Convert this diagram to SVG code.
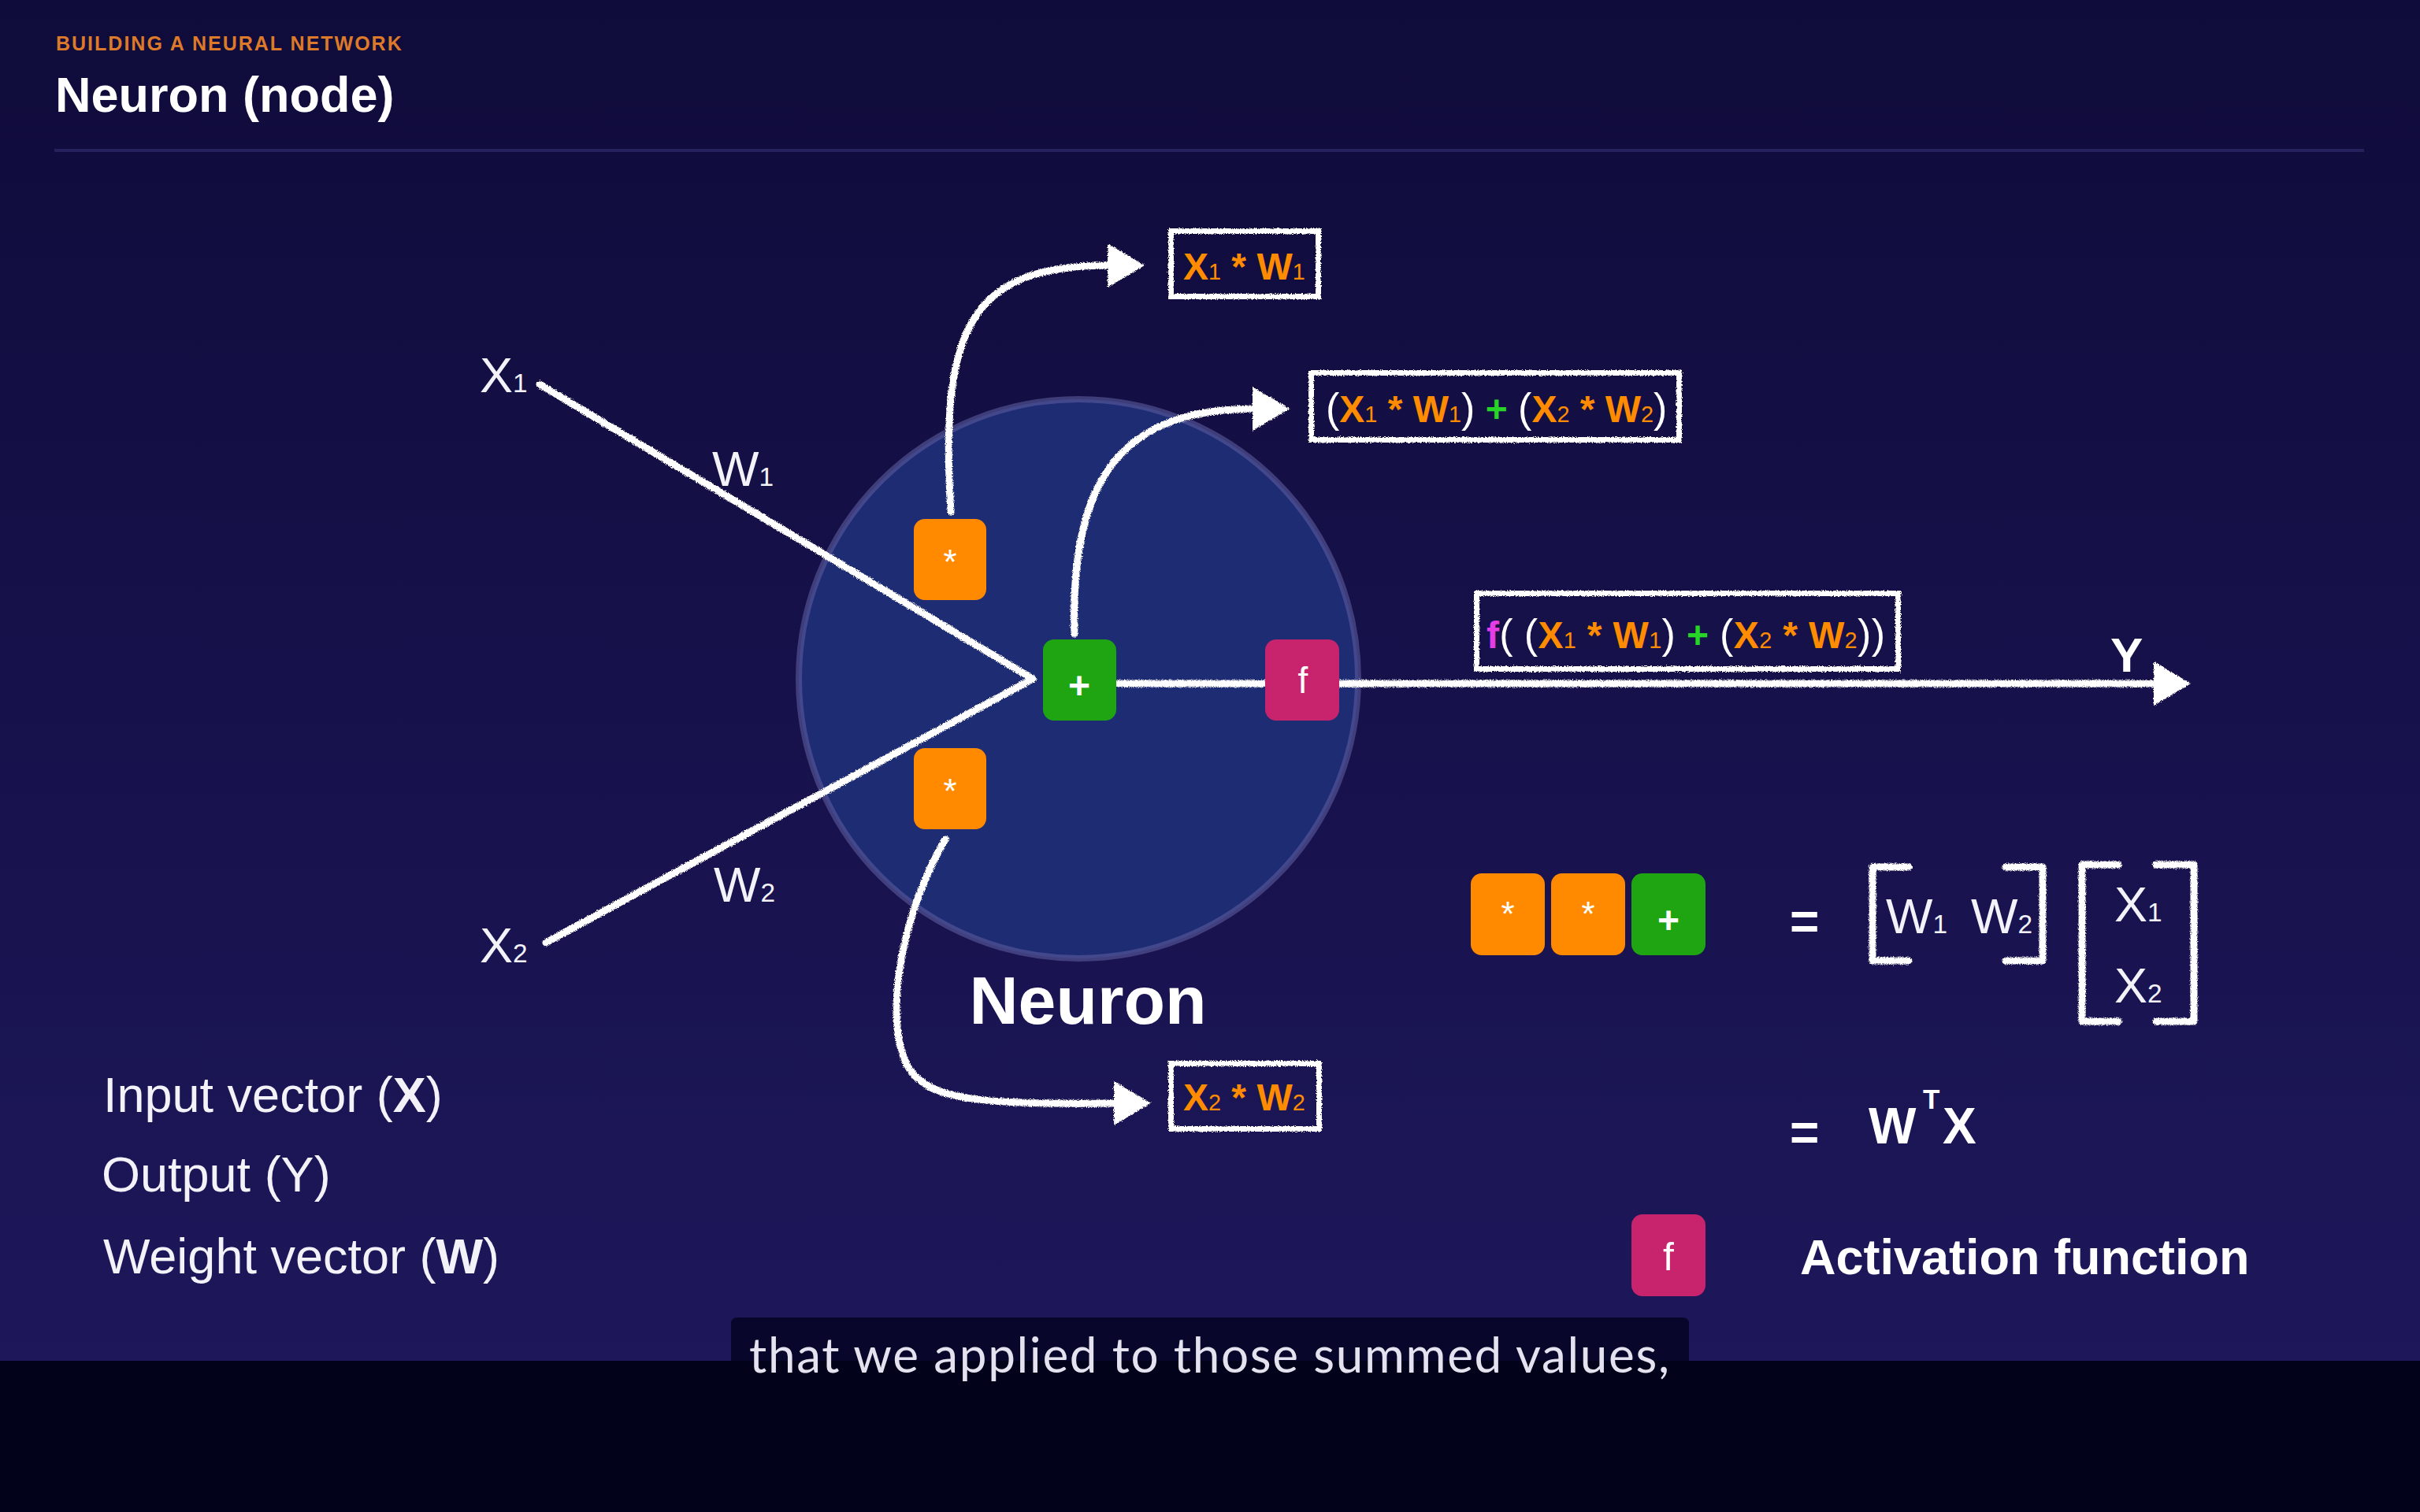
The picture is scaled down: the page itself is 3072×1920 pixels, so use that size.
<svg xmlns="http://www.w3.org/2000/svg" width="3072" height="1920" viewBox="0 0 3072 1920">
  <defs>
    <linearGradient id="bg" x1="0" y1="0" x2="0" y2="1">
      <stop offset="0" stop-color="#0f0b3a"/>
      <stop offset="1" stop-color="#1f195e"/>
    </linearGradient>
    <!-- rough chalk edge for hand-drawn strokes -->
    <filter id="chalk" filterUnits="userSpaceOnUse" x="0" y="0" width="3072" height="1920">
      <feTurbulence type="fractalNoise" baseFrequency="1.1" numOctaves="2" seed="4" result="noise"/>
      <feDisplacementMap in="SourceGraphic" in2="noise" scale="5" xChannelSelector="R" yChannelSelector="G"/>
    </filter>
    <marker id="head" markerUnits="userSpaceOnUse" markerWidth="50" markerHeight="58" viewBox="0 0 50 58" refX="4" refY="29" orient="auto">
      <path d="M0,1 L47,29 L0,57 z" fill="#ffffff"/>
    </marker>
    <style>
      .sans { font-family: "Liberation Sans", Arial, sans-serif; }
      .chalk { fill: none; stroke: #ffffff; stroke-width: 9; stroke-linecap: round; stroke-linejoin: round; filter: url(#chalk); }
      .frame { fill: none; stroke: #ffffff; stroke-width: 7; filter: url(#chalk); }
      .lbl { font-family: "Liberation Sans", Arial, sans-serif; fill: #f2f2f8; font-size: 63px; }
      .sub { font-size: 0.53em; }
      .op { font-family: "Liberation Sans", Arial, sans-serif; font-weight: bold; font-size: 48px; fill: #ff8c00; }
      .op .sub { font-weight: normal; font-size: 0.6em; }
      .par { fill: #ffffff; font-weight: normal; font-size: 52px; }
      .grn { fill: #27d427; }
      .fn { fill: #e43de6; }
      .mul { fill: #ff8a00; }
      .add { fill: #1fa512; }
      .act { fill: #c7246d; }
      .glyph { font-family: "Liberation Sans", Arial, sans-serif; fill: #ffffff; text-anchor: middle; }
    </style>
  </defs>

  <!-- backdrop -->
  <rect width="3072" height="1920" fill="url(#bg)"/>

  <!-- heading -->
  <text class="sans" x="71" y="64" font-size="25" font-weight="bold" letter-spacing="2" fill="#dd7a2a">BUILDING A NEURAL NETWORK</text>
  <text class="sans" x="70" y="142" font-size="63" font-weight="bold" fill="#ffffff">Neuron (node)</text>
  <line x1="69" y1="191" x2="3001" y2="191" stroke="#25215c" stroke-width="4"/>

  <!-- neuron body -->
  <g id="neuron">
    <circle cx="1369" cy="862" r="355" fill="#1e2c74" stroke="#5b5b9c" stroke-opacity="0.6" stroke-width="8"/>
    <text class="sans" x="1381" y="1300" font-size="86" font-weight="bold" fill="#ffffff" text-anchor="middle">Neuron</text>
  </g>

  <!-- inputs -->
  <g id="input-x1">
    <text class="lbl" x="609" y="498">X<tspan class="sub">1</tspan></text>
  </g>
  <g id="input-x2">
    <text class="lbl" x="609" y="1222">X<tspan class="sub">2</tspan></text>
  </g>
  <g id="weight-w1">
    <text class="lbl" x="904" y="617">W<tspan class="sub">1</tspan></text>
  </g>
  <g id="weight-w2">
    <text class="lbl" x="906" y="1145">W<tspan class="sub">2</tspan></text>
  </g>

  <!-- connectors -->
  <g id="connectors">
    <path class="chalk" d="M685,488 L1311,862"/>
    <path class="chalk" d="M693,1197 L1311,862"/>
    <path class="chalk" d="M1420,868 L1606,868"/>
    <path class="chalk" d="M1700,868 L2738,868" marker-end="url(#head)"/>
    <path class="chalk" d="M1207,650 C1192,410 1235,337 1410,337" marker-end="url(#head)"/>
    <path class="chalk" d="M1364,805 C1358,600 1430,519 1594,519" marker-end="url(#head)"/>
    <path class="chalk" d="M1200,1066 C1150,1150 1120,1280 1150,1350 C1175,1400 1250,1402 1418,1401" marker-end="url(#head)"/>
  </g>

  <!-- operations inside the neuron -->
  <g id="mul-1">
    <rect class="mul" x="1160" y="659" width="92" height="103" rx="14"/>
    <text class="glyph" x="1206" y="729" font-size="44">*</text>
  </g>
  <g id="mul-2">
    <rect class="mul" x="1160" y="950" width="92" height="103" rx="14"/>
    <text class="glyph" x="1206" y="1020" font-size="44">*</text>
  </g>
  <g id="sum">
    <rect class="add" x="1324" y="812" width="93" height="103" rx="14"/>
    <text class="glyph" x="1370" y="887" font-size="48" font-weight="bold">+</text>
  </g>
  <g id="activation">
    <rect class="act" x="1606" y="812" width="94" height="103" rx="14"/>
    <text class="glyph" x="1654" y="880" font-size="46">f</text>
  </g>

  <!-- intermediate results -->
  <g id="product-1">
    <rect class="frame" x="1486.5" y="293.5" width="187" height="83"/>
    <text class="op" x="1502" y="355">X<tspan class="sub">1</tspan> * W<tspan class="sub">1</tspan></text>
  </g>
  <g id="weighted-sum">
    <rect class="frame" x="1664.5" y="473.5" width="467" height="85"/>
    <text class="op" x="1683" y="536"><tspan class="par">(</tspan>X<tspan class="sub">1</tspan> * W<tspan class="sub">1</tspan><tspan class="par">)</tspan> <tspan class="grn">+</tspan> <tspan class="par">(</tspan>X<tspan class="sub">2</tspan> * W<tspan class="sub">2</tspan><tspan class="par">)</tspan></text>
  </g>
  <g id="output-expr">
    <rect class="frame" x="1874.5" y="753.5" width="535" height="96"/>
    <text class="op" x="1887" y="823" textLength="506" lengthAdjust="spacing"><tspan class="fn">f</tspan><tspan class="par">(</tspan> <tspan class="par">(</tspan>X<tspan class="sub">1</tspan> * W<tspan class="sub">1</tspan><tspan class="par">)</tspan> <tspan class="grn">+</tspan> <tspan class="par">(</tspan>X<tspan class="sub">2</tspan> * W<tspan class="sub">2</tspan><tspan class="par">)</tspan><tspan class="par">)</tspan></text>
  </g>
  <g id="product-2">
    <rect class="frame" x="1486.5" y="1350.5" width="188" height="83"/>
    <text class="op" x="1502" y="1410">X<tspan class="sub">2</tspan> * W<tspan class="sub">2</tspan></text>
  </g>
  <g id="output-y">
    <text class="sans" x="2679" y="853" font-size="62" font-weight="bold" fill="#ffffff">Y</text>
  </g>

  <!-- legend -->
  <g id="legend">
    <text class="lbl" x="131" y="1412">Input vector (<tspan font-weight="bold">X</tspan>)</text>
    <text class="lbl" x="129" y="1513">Output (Y)</text>
    <text class="lbl" x="131" y="1617">Weight vector (<tspan font-weight="bold">W</tspan>)</text>
  </g>

  <!-- matrix form of the weighted sum -->
  <g id="ops-row">
    <rect class="mul" x="1867" y="1109" width="94" height="104" rx="14"/>
    <text class="glyph" x="1914" y="1176" font-size="44">*</text>
    <rect class="mul" x="1969" y="1109" width="94" height="104" rx="14"/>
    <text class="glyph" x="2016" y="1176" font-size="44">*</text>
    <rect class="add" x="2071" y="1109" width="94" height="104" rx="14"/>
    <text class="glyph" x="2118" y="1185" font-size="48" font-weight="bold">+</text>
  </g>
  <g id="matrix-product">
    <text class="sans" x="2272" y="1192" font-size="64" font-weight="bold" fill="#ffffff">=</text>
    <path class="chalk" d="M2423,1101 L2377,1101 L2377,1220 L2423,1220"/>
    <path class="chalk" d="M2546,1101 L2593,1101 L2593,1220 L2546,1220"/>
    <text class="lbl" x="2394" y="1185" font-size="65">W<tspan class="sub">1</tspan></text>
    <text class="lbl" x="2502" y="1185" font-size="65">W<tspan class="sub">2</tspan></text>
    <path class="chalk" d="M2689,1098 L2643,1098 L2643,1297 L2689,1297"/>
    <path class="chalk" d="M2737,1098 L2785,1098 L2785,1297 L2737,1297"/>
    <text class="lbl" x="2684" y="1170" font-size="61">X<tspan class="sub">1</tspan></text>
    <text class="lbl" x="2684" y="1273" font-size="61">X<tspan class="sub">2</tspan></text>
  </g>
  <g id="transpose-form">
    <text class="sans" x="2272" y="1460" font-size="64" font-weight="bold" fill="#ffffff">=</text>
    <text class="sans" x="2372" y="1452" font-size="64" font-weight="bold" fill="#ffffff">W</text>
    <text class="sans" x="2441" y="1408" font-size="35" font-weight="bold" fill="#ffffff">T</text>
    <text class="sans" x="2466" y="1452" font-size="64" font-weight="bold" fill="#ffffff">X</text>
  </g>
  <g id="activation-key">
    <rect class="act" x="2071" y="1542" width="94" height="104" rx="14"/>
    <text class="glyph" x="2118" y="1613" font-size="50">f</text>
    <text class="sans" x="2285" y="1618" font-size="63" font-weight="bold" fill="#ffffff">Activation function</text>
  </g>

  <!-- caption strip -->
  <rect x="0" y="1728" width="3072" height="192" fill="#03021b"/>
  <path d="M928,1728 L928,1681 Q928,1673 936,1673 L2136,1673 Q2144,1673 2144,1681 L2144,1728 z" fill="#08072b"/>
  <text x="951" y="1743" font-family="Lato, 'Open Sans', sans-serif" font-size="62" fill="#e4e2ee" textLength="1168" lengthAdjust="spacing">that we applied to those summed values,</text>
</svg>
